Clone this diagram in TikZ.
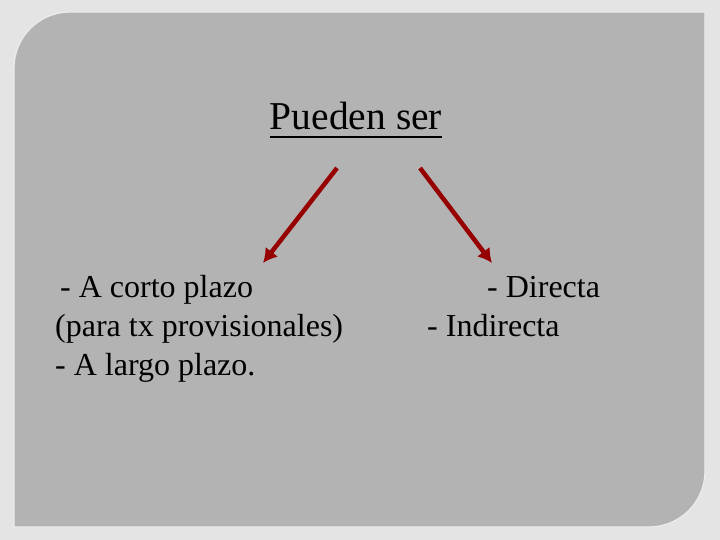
\documentclass[tikz,border=0pt]{standalone}
\usepackage{fontspec}
\setmainfont{Liberation Serif}
\usetikzlibrary{arrows.meta}
\definecolor{outergray}{RGB}{228,228,228}
\definecolor{panelgray}{RGB}{179,179,179}
\definecolor{arrowred}{RGB}{150,0,0}
\tikzset{
  title/.style={anchor=base,inner sep=0pt,font=\fontsize{39.5}{44}\selectfont},
  item/.style={anchor=base west,inner sep=0pt,font=\fontsize{32}{39}\selectfont},
  redarrow/.style={draw=arrowred,line width=4.5pt,-{Latex[length=14pt,width=16pt]}}
}
\begin{document}
\begin{tikzpicture}[x=1pt,y=-1pt]
\useasboundingbox (0,0) rectangle (720,540);
\fill[outergray] (0,0) rectangle (720,540);
\filldraw[fill=panelgray,draw=white!85!gray,line width=1.2pt]
  (14,300) [rounded corners=56pt] -- (14,12) -- (300,12) [sharp corners] -- (705,12) -- (705,300)
  [rounded corners=56pt] -- (705,527) -- (300,527) [sharp corners] -- (14,527) -- cycle;
\node[title] (T) at (356,130) {Pueden ser};
\draw[line width=2.5pt] ([yshift=-7pt]T.base west) -- ([yshift=-7pt]T.base east);
\node[item] (l1) at (60,297) {- A corto plazo};
\node[item] (l2) at (55,336) {(para tx provisionales)};
\node[item] (l3) at (55,375) {- A largo plazo.};
\node[item] (r1) at (487,297) {- Directa};
\node[item] (r2) at (427,336) {- Indirecta};
\coordinate (a1) at (337,168);
\coordinate (a2) at (263,263);
\coordinate (b1) at (420,168);
\coordinate (b2) at (492,263);
\draw[redarrow] (a1) -- (a2);
\draw[redarrow] (b1) -- (b2);
\end{tikzpicture}
\end{document}
